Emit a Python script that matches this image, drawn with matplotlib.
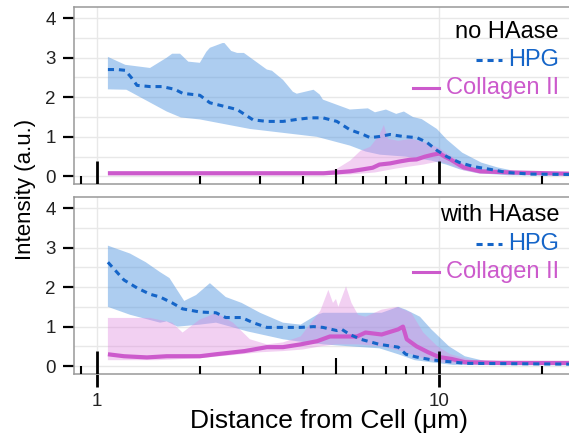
import matplotlib
matplotlib.use("Agg")
import matplotlib.pyplot as plt

plt.rcParams["font.family"] = ["Liberation Sans", "DejaVu Sans"]

# ---- no HAase (top panel) ----
top_hpg_x = [1.077, 1.15, 1.21, 1.26, 1.31, 1.43, 1.55, 1.69, 1.78, 2.0, 2.14, 2.57, 2.86, 3.14,
             3.5, 3.84, 4.2, 4.58, 5.03, 5.49, 6.0, 6.29, 6.72, 7.19, 7.85, 8.62, 9.22, 9.86,
             10.55, 11.5, 12.6, 14.1, 15.8, 18.5, 24]
top_hpg_y = [2.7, 2.7, 2.68, 2.5, 2.3, 2.27, 2.27, 2.2, 2.1, 2.05, 1.86, 1.69, 1.43, 1.39,
             1.39, 1.44, 1.48, 1.48, 1.39, 1.18, 1.06, 0.98, 1.01, 1.06, 1.01, 0.98, 0.86, 0.66,
             0.5, 0.35, 0.25, 0.18, 0.1, 0.06, 0.05]

top_hpg_up_x = [1.077, 1.21, 1.43, 1.6, 1.66, 1.75, 1.85, 2.0, 2.09, 2.14, 2.33, 2.36, 2.47, 2.57,
                2.69, 3.14, 3.25, 3.5, 3.74, 3.84, 4.3, 4.48, 4.58, 5.49, 6.2, 6.5, 7.0, 7.5,
                7.9, 8.4, 8.9, 9.86, 10.55, 11.7, 13.3, 14.8, 17, 24]
top_hpg_up_y = [3.02, 2.82, 2.74, 3.0, 3.1, 3.1, 2.9, 2.87, 3.15, 3.25, 3.37, 3.37, 3.17, 3.12,
                3.12, 2.7, 2.67, 2.44, 2.14, 2.09, 2.19, 2.07, 1.94, 1.69, 1.72, 1.62, 1.69, 1.58,
                1.64, 1.5, 1.45, 1.2, 0.93, 0.6, 0.35, 0.23, 0.12, 0.08]

top_hpg_lo_x = [1.077, 1.22, 1.38, 1.6, 1.76, 2.0, 2.8, 4.4, 5.49, 6.1, 6.72, 8.0, 9.5, 10.5,
                11.5, 13, 16, 24]
top_hpg_lo_y = [2.2, 2.19, 1.94, 1.64, 1.49, 1.44, 1.2, 1.0, 0.78, 0.63, 0.55, 0.5, 0.4, 0.3,
                0.18, 0.08, 0.03, 0.02]

top_col_x = [1.077, 2.0, 3.0, 4.6, 5.0, 5.5, 6.0, 6.4, 6.7, 7.2, 7.7, 8.2, 8.6, 9.1, 9.6, 10.05,
             10.4, 10.8, 11.8, 13.2, 16.4, 24]
top_col_y = [0.08, 0.08, 0.08, 0.08, 0.1, 0.13, 0.18, 0.22, 0.3, 0.33, 0.38, 0.42, 0.43, 0.5,
             0.55, 0.58, 0.5, 0.43, 0.23, 0.13, 0.1, 0.07]

top_col_up_x = [1.077, 4.6, 5.0, 5.5, 5.9, 6.3, 6.7, 6.9, 7.1, 7.6, 8.3, 9.2, 10.0, 10.9, 11.9,
                13.3, 16, 24]
top_col_up_y = [0.13, 0.13, 0.18, 0.4, 0.65, 0.75, 1.05, 1.3, 0.95, 0.9, 0.95, 0.85, 0.72, 0.5,
                0.3, 0.15, 0.1, 0.09]

top_col_lo_x = [1.077, 4.6, 5.5, 6.5, 7.5, 9.0, 10.0, 10.8, 11.8, 13.2, 24]
top_col_lo_y = [0.04, 0.04, 0.05, 0.1, 0.2, 0.3, 0.38, 0.3, 0.15, 0.07, 0.04]

# ---- with HAase (bottom panel) ----
bot_hpg_x = [1.077, 1.2, 1.31, 1.43, 1.53, 1.66, 1.78, 2.0, 2.23, 2.38, 2.65, 2.86, 3.14, 3.5,
             3.94, 4.3, 4.58, 5.03, 5.2, 5.49, 5.9, 6.7, 7.6, 8.0, 8.6, 9.5, 10.2, 12, 24]
bot_hpg_y = [2.63, 2.18, 1.98, 1.82, 1.75, 1.6, 1.45, 1.37, 1.35, 1.23, 1.23, 1.1, 0.98, 0.98,
             0.98, 1.0, 0.98, 0.9, 0.93, 0.8, 0.68, 0.55, 0.48, 0.3, 0.23, 0.16, 0.13, 0.07, 0.05]

bot_hpg_up_x = [1.077, 1.25, 1.39, 1.53, 1.63, 1.8, 1.95, 2.14, 2.38, 2.65, 3.0, 3.5, 3.94, 4.4,
                4.58, 5.03, 5.6, 6.8, 7.6, 8.0, 8.8, 9.5, 10.7, 11.9, 13.6, 24]
bot_hpg_up_y = [3.05, 2.85, 2.63, 2.38, 2.23, 1.65, 1.8, 2.1, 1.75, 1.6, 1.35, 1.1, 1.05, 1.3,
                1.35, 1.35, 1.35, 1.35, 1.5, 1.43, 1.25, 0.93, 0.5, 0.25, 0.13, 0.08]

bot_hpg_lo_x = [1.077, 1.25, 1.53, 1.6, 1.72, 2.0, 2.23, 2.75, 3.5, 3.84, 4.6, 5.5, 6.7, 7.6,
                8.5, 9.8, 11, 24]
bot_hpg_lo_y = [1.5, 1.3, 1.1, 1.13, 1.0, 1.05, 1.1, 0.88, 0.68, 0.63, 0.55, 0.5, 0.45, 0.3,
                0.15, 0.08, 0.03, 0.02]

bot_col_x = [1.077, 1.2, 1.4, 1.6, 2.0, 2.23, 2.7, 3.14, 3.5, 3.94, 4.4, 4.8, 5.2, 5.76, 6.1,
             6.8, 7.6, 7.85, 8.05, 8.6, 9.3, 10.0, 10.9, 11.9, 15, 24]
bot_col_y = [0.3, 0.25, 0.22, 0.25, 0.25, 0.3, 0.38, 0.48, 0.48, 0.55, 0.63, 0.75, 0.75, 0.75,
             0.85, 0.8, 0.93, 1.0, 0.68, 0.5, 0.35, 0.23, 0.18, 0.1, 0.08, 0.08]

bot_col_up_x = [1.077, 1.43, 1.66, 1.78, 1.91, 2.0, 2.1, 2.23, 2.5, 2.8, 3.14, 3.5, 3.94, 4.5,
                4.75, 4.9, 5.0, 5.08, 5.35, 5.55, 5.8, 6.1, 6.8, 7.55, 8.3, 9.0, 9.9, 10.8,
                12.5, 24]
bot_col_up_y = [1.22, 1.22, 1.1, 0.85, 1.05, 1.18, 1.25, 1.35, 1.1, 0.68, 0.55, 0.6, 0.75, 1.4,
                1.93, 1.6, 1.7, 1.5, 2.02, 1.6, 1.3, 1.25, 1.43, 1.5, 1.35, 0.85, 0.5, 0.3,
                0.15, 0.12]

bot_col_lo_x = [1.077, 1.5, 2.0, 2.5, 3.0, 3.5, 4.0, 4.5, 5.0, 5.8, 6.8, 7.6, 8.3, 9.0, 10.0,
                11.5, 24]
bot_col_lo_y = [0.15, 0.15, 0.2, 0.28, 0.35, 0.38, 0.42, 0.5, 0.55, 0.55, 0.5, 0.4, 0.3, 0.2,
                0.1, 0.05, 0.05]

minor_ticks = [0.9, 2, 3, 4, 6, 7, 8, 9, 20]
mid_ticks = [5]
major_ticks = [1, 10]

HPG_LINE = "#1565c8"
HPG_FILL = "#5c9ce2"
COL_LINE = "#cc5acc"
COL_FILL = "#e08ae0"

fig = plt.figure(figsize=(5.69, 4.4), dpi=100)
ax_top = fig.add_axes([0.130, 0.581, 0.870, 0.404])
ax_bot = fig.add_axes([0.130, 0.150, 0.870, 0.403])

panels = [
    (ax_top, "no HAase",
     (top_hpg_x, top_hpg_y, top_hpg_up_x, top_hpg_up_y, top_hpg_lo_x, top_hpg_lo_y),
     (top_col_x, top_col_y, top_col_up_x, top_col_up_y, top_col_lo_x, top_col_lo_y),
     [0.858, 0.700, 0.542]),
    (ax_bot, "with HAase",
     (bot_hpg_x, bot_hpg_y, bot_hpg_up_x, bot_hpg_up_y, bot_hpg_lo_x, bot_hpg_lo_y),
     (bot_col_x, bot_col_y, bot_col_up_x, bot_col_up_y, bot_col_lo_x, bot_col_lo_y),
     [0.897, 0.733, 0.575]),
]

for ax, title, hpg, col, ty in panels:
    ax.set_xscale("log")
    ax.set_xlim(0.857, 24)
    ax.set_ylim(-0.2, 4.29)

    # grid
    for g in [0, 0.5, 1, 1.5, 2, 2.5, 3, 3.5, 4]:
        ax.axhline(g, color="#e8e8e8", lw=1, zorder=0)
    for g in major_ticks:
        ax.axvline(g, color="#e8e8e8", lw=1, zorder=0)

    hx, hy, hux, huy, hlx, hly = hpg
    cx, cy, cux, cuy, clx, cly = col

    # bands: build polygon from upper and lower edges
    ax.fill(hux + hlx[::-1], huy + hly[::-1], color=HPG_FILL, alpha=0.5, lw=0, zorder=1)
    ax.fill(cux + clx[::-1], cuy + cly[::-1], color=COL_FILL, alpha=0.4, lw=0, zorder=2)

    ax.plot(cx, cy, color=COL_LINE, lw=3, zorder=3, solid_capstyle="butt")
    ax.plot(hx, hy, color=HPG_LINE, lw=2.2, ls=(0, (2, 1.6)), zorder=4)

    # rug style log ticks inside the plot
    ax.vlines(minor_ticks, -0.2, 0.0, color="black", lw=1.5, zorder=5)
    ax.vlines(mid_ticks, -0.2, 0.2, color="black", lw=1.5, zorder=5)
    ax.vlines(major_ticks, -0.2, 0.38, color="black", lw=2, zorder=5)

    for s in ax.spines.values():
        s.set_color("#999999")
        s.set_linewidth(1.1)
    ax.spines["right"].set_visible(False)

    ax.set_yticks([0, 1, 2, 3, 4])
    ax.tick_params(axis="y", direction="out", length=8, width=1.6, color="black",
                   labelsize=13.5, pad=5, labelcolor="#222222")
    ax.minorticks_off()

    # legend-like labels
    ax.text(0.980, ty[0], title, transform=ax.transAxes, ha="right", va="center",
            fontsize=17, color="black")
    ax.text(0.980, ty[1], "HPG", transform=ax.transAxes, ha="right", va="center",
            fontsize=17, color=HPG_LINE)
    ax.text(0.980, ty[2], "Collagen II", transform=ax.transAxes, ha="right", va="center",
            fontsize=17, color=COL_LINE)
    ax.plot([0.812, 0.864], [ty[1], ty[1]], transform=ax.transAxes, color=HPG_LINE,
            lw=2.2, ls=(0, (2, 1.6)))
    ax.plot([0.684, 0.737], [ty[2], ty[2]], transform=ax.transAxes, color=COL_LINE, lw=2.2)

ax_top.set_xticks([])
ax_bot.set_xticks(major_ticks)
ax_bot.set_xticklabels(["1", "10"])
ax_bot.tick_params(axis="x", direction="out", length=9.5, width=2, color="black",
                   labelsize=13.5, pad=4, labelcolor="#222222")
ax_bot.set_xlabel("Distance from Cell (μm)", fontsize=19)
ax_bot.xaxis.set_label_coords(0.515, -0.2)

fig.text(0.045, 0.57, "Intensity (a.u.)", rotation=90, ha="center", va="center", fontsize=16)

fig.savefig("out.png", dpi=100)
